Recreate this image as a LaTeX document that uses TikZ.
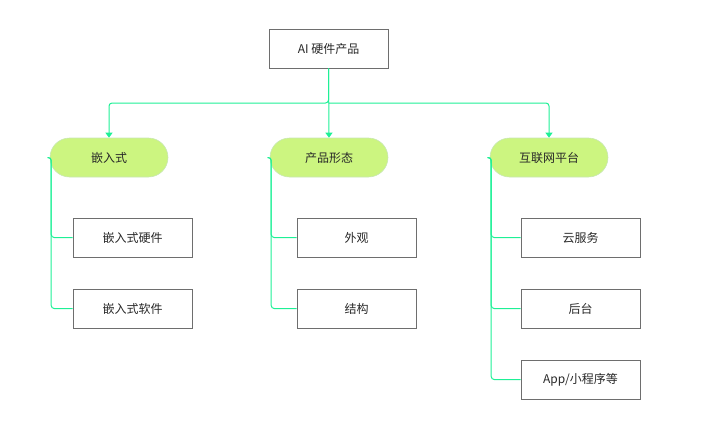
\documentclass[tikz,border=0pt]{standalone}
\usepackage{fontspec}
\setmainfont{Noto Sans CJK SC}
\usetikzlibrary{arrows.meta}
\definecolor{conn}{RGB}{30,240,150}
\definecolor{pillfill}{RGB}{204,245,128}
\definecolor{pilldraw}{RGB}{200,230,180}
\definecolor{boxdraw}{RGB}{110,110,110}
\definecolor{txt}{RGB}{40,40,40}
\tikzset{
  every node/.style={font=\fontsize{12}{14}\selectfont, text=txt},
  boxnode/.style={draw=boxdraw, line width=0.9pt, fill=white, minimum width=119pt, minimum height=39pt, inner sep=0pt},
  pill/.style={draw=pilldraw, line width=0.6pt, fill=pillfill, rounded corners=19.5pt, minimum width=118pt, minimum height=39pt, inner sep=0pt},
  link/.style={draw=conn, line width=1pt, rounded corners=3pt},
  arr/.style={link, -{Triangle[width=7pt,length=5pt]}},
}
\begin{document}
\begin{tikzpicture}[x=1pt,y=-1pt]
\useasboundingbox (0,0) rectangle (717,432);
\node[boxnode] (root) at (328.5,48.5) {AI 硬件产品};
\node[pill] (p1) at (109,157.5) {嵌入式};
\node[pill] (p2) at (329,157.5) {产品形态};
\node[pill] (p3) at (549,157.5) {互联网平台};
\node[boxnode] (a1) at (132.5,237.5) {嵌入式硬件};
\node[boxnode] (a2) at (132.5,308.5) {嵌入式软件};
\node[boxnode] (b1) at (356.5,237.5) {外观};
\node[boxnode] (b2) at (356.5,308.5) {结构};
\node[boxnode] (c1) at (580.5,237.5) {云服务};
\node[boxnode] (c2) at (580.5,308.5) {后台};
\node[boxnode] (c3) at (580.5,379.5) {App/小程序等};
\coordinate (hub) at (328.5,103);
\draw[arr] (root.south) -- (hub) -| (p1.north);
\draw[arr] (root.south) -- (p2.north);
\draw[arr] (hub) -| (p3.north);
\foreach \p/\c in {p1/a1,p1/a2,p2/b1,p2/b2,p3/c1,p3/c2,p3/c3}{
  \draw[link] ([xshift=-2pt]\p.west) -- ([xshift=1.5pt]\p.west) |- (\c.west);
}
\end{tikzpicture}
\end{document}
